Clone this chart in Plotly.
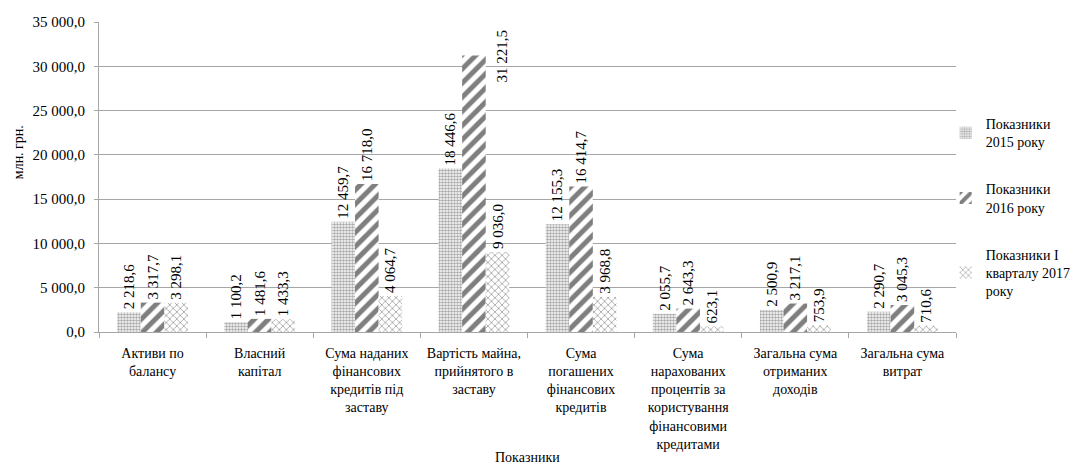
import plotly.graph_objects as go

categories = [
    "Активи по<br>балансу",
    "Власний<br>капітал",
    "Сума наданих<br>фінансових<br>кредитів під<br>заставу",
    "Вартість майна,<br>прийнятого в<br>заставу",
    "Сума<br>погашених<br>фінансових<br>кредитів",
    "Сума<br>нарахованих<br>процентів за<br>користування<br>фінансовими<br>кредитами",
    "Загальна сума<br>отриманих<br>доходів",
    "Загальна сума<br>витрат",
]
series_names = [
    "Показники<br>2015 року",
    "Показники<br>2016 року",
    "Показники I<br>кварталу 2017<br>року",
]
values_2015 = [2218.6, 1100.2, 12459.7, 18446.6, 12155.3, 2055.7, 2500.9, 2290.7]
values_2016 = [3317.7, 1481.6, 16718.0, 31221.5, 16414.7, 2643.3, 3217.1, 3045.3]
values_2017q1 = [3298.1, 1433.3, 4064.7, 9036.0, 3968.8, 623.1, 753.9, 710.6]
y_ticks = [0, 5000, 10000, 15000, 20000, 25000, 30000, 35000]

FONT = "Liberation Serif"


def fmt(v):
    return f"{v:,.1f}".replace(",", " ").replace(".", ",")


patterns = [
    dict(shape=".", fgcolor="#555555", bgcolor="white", size=3, solidity=0.55),
    dict(shape="/", fgcolor="black", bgcolor="white", size=10, solidity=0.5),
    dict(shape="x", fgcolor="#444444", bgcolor="white", size=5, solidity=0.3),
]

all_values = [values_2015, values_2016, values_2017q1]
# the tallest label does not fit above its bar; it is set beside it as in the original
max_val = max(max(v) for v in all_values)
max_cat = None
for vals in all_values:
    if max_val in vals:
        max_cat = categories[vals.index(max_val)]

fig = go.Figure()
for i, (name, vals) in enumerate(zip(series_names, all_values)):
    texts = ["" if v == max_val else fmt(v) for v in vals]
    fig.add_trace(go.Bar(
        x=categories, y=vals, name=name,
        legendgroup=f"g{i}",
        marker=dict(color="white", pattern=patterns[i], line=dict(width=0)),
        text=texts,
        texttemplate="%{text}",
        textposition="outside",
        textangle=-90,
        textfont=dict(family=FONT, size=15, color="black"),
        cliponaxis=False,
        constraintext="none",
    ))

annotations = [
    dict(
        text="млн. грн.", xref="paper", yref="paper",
        x=-0.0945, y=0.58, xanchor="center", yanchor="middle",
        textangle=-90, showarrow=False,
        font=dict(family=FONT, size=14, color="black"),
    ),
    dict(
        text="Показники", xref="paper", yref="paper",
        x=0.5, y=-0.405, xanchor="center", yanchor="middle",
        showarrow=False,
        font=dict(family=FONT, size=14, color="black"),
    ),
    dict(
        text=fmt(max_val),
        x=max_cat, y=max_val, xref="x", yref="y",
        xshift=29, yanchor="middle", xanchor="center",
        textangle=-90, showarrow=False,
        font=dict(family=FONT, size=15, color="black"),
    ),
]

fig.update_layout(
    width=1084, height=465,
    margin=dict(l=91, r=136, t=14, b=141, autoexpand=False),
    paper_bgcolor="white", plot_bgcolor="white",
    separators=", ",
    barmode="group", bargap=0.34, bargroupgap=0,
    font=dict(family=FONT, size=15, color="black"),
    showlegend=True,
    legend=dict(
        xref="container", yref="container",
        x=0.865, y=1 - 100 / 465, xanchor="left", yanchor="top",
        traceorder="grouped", tracegroupgap=26,
        font=dict(family=FONT, size=14, color="black"),
        itemwidth=30, bgcolor="rgba(0,0,0,0)",
    ),
    xaxis=dict(
        showline=True, linecolor="#a6a6a6", linewidth=1,
        ticks="outside", tickson="boundaries", ticklen=5, tickcolor="#a6a6a6",
        tickangle=0, ticklabelstandoff=8,
        tickfont=dict(family=FONT, size=14, color="black"),
        automargin=False,
    ),
    yaxis=dict(
        range=[0, 35000], tickvals=y_ticks, tickformat=",.1f",
        showgrid=True, gridcolor="#a6a6a6", gridwidth=1,
        showline=True, linecolor="#a6a6a6", linewidth=1,
        ticks="outside", ticklen=4, tickcolor="#a6a6a6",
        ticklabelstandoff=6,
        tickfont=dict(family=FONT, size=15, color="black"),
        zeroline=False, automargin=False,
    ),
    annotations=annotations,
)

fig.write_html("out.html")
